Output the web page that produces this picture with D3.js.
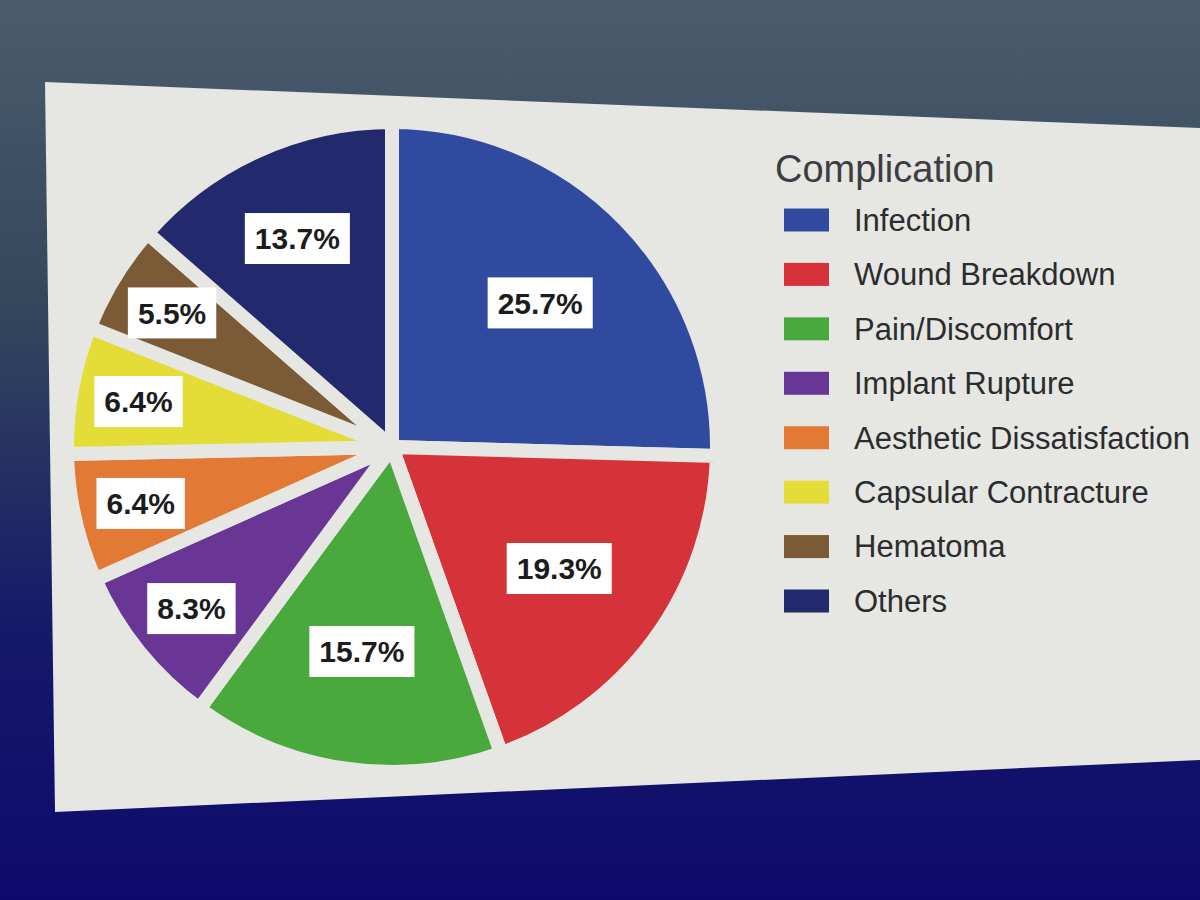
<!DOCTYPE html>
<html>
<head>
<meta charset="utf-8">
<script src="https://cdn.jsdelivr.net/npm/d3@7/dist/d3.min.js"></script>
<style>
  html, body { margin: 0; padding: 0; background: #1a2350; }
  svg { display: block; }
</style>
</head>
<body>
<svg id="chart" width="1200" height="900"></svg>
<script>
// ---- Data ----
const legendTitle = "Complication";
const categories = [
  "Infection",
  "Wound Breakdown",
  "Pain/Discomfort",
  "Implant Rupture",
  "Aesthetic Dissatisfaction",
  "Capsular Contracture",
  "Hematoma",
  "Others"
];
const percentages = [25.7, 19.3, 15.7, 8.3, 6.4, 6.4, 5.5, 13.7];
const sliceColors = ["#2f4a9f", "#d6323a", "#4aa93d", "#6a3696", "#e27935", "#e4dc37", "#7a5b35", "#222a6d"];

// ---- Setup ----
const svg = d3.select("#chart");
const W = 1200, H = 900;
const defs = svg.append("defs");

const bg = defs.append("linearGradient").attr("id", "bg").attr("x1", 0).attr("y1", 0).attr("x2", 0).attr("y2", 1);
bg.append("stop").attr("offset", "0%").attr("stop-color", "#4a5c6c");
bg.append("stop").attr("offset", "35%").attr("stop-color", "#33465c");
bg.append("stop").attr("offset", "70%").attr("stop-color", "#15196a");
bg.append("stop").attr("offset", "100%").attr("stop-color", "#0e0a6c");
svg.append("rect").attr("width", W).attr("height", H).attr("fill", "url(#bg)");

const panelColor = "#e6e6e2";

// screen panel (slanted, as photographed)
svg.append("path")
  .attr("d", "M45,82 L1200,128 L1200,760 L55,812 Z")
  .attr("fill", panelColor);

// ---- Pie ----
const cx = 392, cy = 447, R = 318, gap = 14;
const total = d3.sum(percentages);
const data = categories.map((c, i) => ({ name: c, value: percentages[i], color: sliceColors[i] }));

const pie = d3.pie().sort(null).value(d => d.value);
const arcs = pie(data);
const arc = d3.arc().innerRadius(0).outerRadius(R + gap / 2);

const g = svg.append("g").attr("transform", `translate(${cx},${cy})`);
g.selectAll("path.slice")
  .data(arcs)
  .join("path")
  .attr("class", "slice")
  .attr("d", arc)
  .attr("fill", d => d.data.color)
  .attr("stroke", panelColor)
  .attr("stroke-width", gap)
  .attr("stroke-linejoin", "round");

// labels (best-fit style: smaller slices get labels nearer the rim)
function labelRadius(d) {
  const f = d.data.value / total;
  if (f >= 0.15) return R * 0.65;
  if (f >= 0.10) return R * 0.72;
  return R * 0.81;
}
const lbl = g.selectAll("g.lbl")
  .data(arcs)
  .join("g")
  .attr("class", "lbl")
  .attr("transform", d => {
    const a = (d.startAngle + d.endAngle) / 2;
    const r = labelRadius(d);
    return `translate(${Math.sin(a) * r},${-Math.cos(a) * r})`;
  });

lbl.append("rect").attr("fill", "#ffffff");
lbl.append("text")
  .attr("text-anchor", "middle")
  .attr("dy", "0.36em")
  .attr("font-family", "'Liberation Sans', Arial, sans-serif")
  .attr("font-weight", "bold")
  .attr("font-size", 30)
  .attr("fill", "#1c1c1c")
  .text(d => d.data.value.toFixed(1) + "%");

lbl.each(function () {
  const t = d3.select(this).select("text").node();
  const w = t.getComputedTextLength() + 20;
  const h = 51;
  d3.select(this).select("rect")
    .attr("x", -w / 2).attr("y", -h / 2)
    .attr("width", w).attr("height", h);
});

// ---- Legend ----
const legend = svg.append("g").attr("transform", "translate(775,0)");
legend.append("text")
  .attr("x", 0).attr("y", 182)
  .attr("font-family", "'Liberation Sans', Arial, sans-serif")
  .attr("font-size", 38)
  .attr("fill", "#3b3d40")
  .text(legendTitle);

const ly = d3.scalePoint().domain(categories).range([220, 601]);
const items = legend.selectAll("g.item")
  .data(data)
  .join("g")
  .attr("class", "item")
  .attr("transform", d => `translate(0,${ly(d.name)})`);
items.append("rect")
  .attr("x", 9).attr("y", -11.5)
  .attr("width", 45).attr("height", 23)
  .attr("fill", d => d.color);
items.append("text")
  .attr("x", 79).attr("dy", "0.35em")
  .attr("font-family", "'Liberation Sans', Arial, sans-serif")
  .attr("font-size", 31)
  .attr("fill", "#2b2c2e")
  .text(d => d.name);
</script>
</body>
</html>
